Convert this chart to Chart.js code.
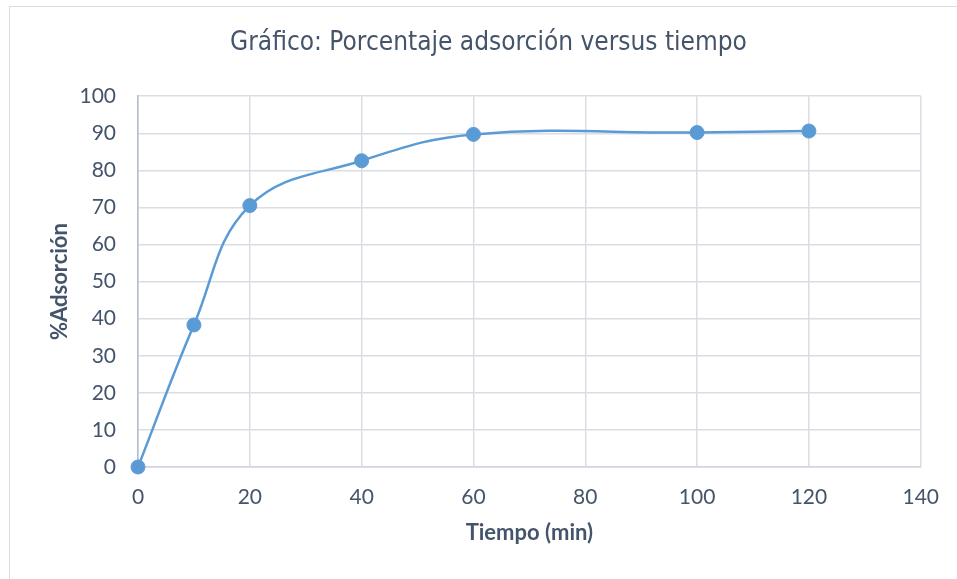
<!DOCTYPE html>
<html>
<head>
<meta charset="utf-8">
<script src="https://cdn.jsdelivr.net/npm/chart.js@4"></script>
<style>
  html, body { margin: 0; padding: 0; background: #fff; }
  #wrap { position: relative; width: 957px; height: 579px; overflow: hidden; }
  #frame { position: absolute; left: 9px; top: 6px; width: 1000px; height: 700px;
           border-left: 1px solid #d9dde3; border-top: 1px solid #d9dde3; }
  #chart { position: absolute; left: 0; top: 0; }
</style>
</head>
<body>
<div id="wrap">
  <div id="frame"></div>
  <canvas id="chart" width="957" height="579"></canvas>
</div>
<script>
// datos
const tiempoMin = [0, 10, 20, 40, 60, 100, 120];
const adsorcion = [0, 38.3, 70.5, 82.6, 89.7, 90.2, 90.6];

const titulo = 'Gráfico: Porcentaje adsorción versus tiempo';
const tituloX = 'Tiempo (min)';
const tituloY = '%Adsorción';

const textColor = '#44546a';
const gridColor = '#d9dde4';
const serieColor = '#5b9bd5';

const puntos = tiempoMin.map((t, i) => ({ x: t, y: adsorcion[i] }));

const ctx = document.getElementById('chart').getContext('2d');
window.chart = new Chart(ctx, {
  type: 'scatter',
  data: {
    datasets: [{
      label: tituloY,
      data: puntos,
      showLine: true,
      tension: 0.4,
      borderColor: serieColor,
      borderWidth: 2.5,
      backgroundColor: serieColor,
      pointRadius: 7,
      pointBorderWidth: 1,
      pointBorderColor: serieColor,
      clip: false
    }]
  },
  options: {
    responsive: false,
    animation: false,
    layout: { padding: { left: 56, right: 36, top: 0, bottom: 0 } },
    plugins: {
      legend: { display: false },
      tooltip: { enabled: false },
      title: {
        display: true,
        text: titulo,
        color: textColor,
        font: { family: "'Liberation Sans Narrow', 'DejaVu Sans Condensed', sans-serif", size: 26, weight: 'normal' },
        padding: { top: 28, bottom: 37 }
      }
    },
    scales: {
      x: {
        type: 'linear',
        min: 0,
        max: 140,
        ticks: { stepSize: 20, color: textColor, padding: 18, font: { family: 'Lato', size: 21 } },
        grid: { color: gridColor, lineWidth: 1.5, drawTicks: false },
        border: { color: '#cfd5de', width: 1.5 },
        title: {
          display: true,
          text: tituloX,
          color: textColor,
          font: { family: 'Lato', size: 22, weight: 'bold' },
          padding: { top: 0, bottom: 33 }
        },
        afterFit: s => { s.height = 112; }
      },
      y: {
        min: 0,
        max: 100,
        ticks: { stepSize: 10, color: textColor, padding: 22, font: { family: 'Lato', size: 21 } },
        grid: { color: gridColor, lineWidth: 1.5, drawTicks: false },
        border: { color: '#b4bdcb', width: 1.5 },
        title: {
          display: true,
          text: tituloY,
          color: textColor,
          font: { family: 'Lato', size: 22, weight: 'bold' },
          padding: { top: -9, bottom: 0 }
        },
        afterFit: s => { s.width = 82; }
      }
    }
  }
});
</script>
</body>
</html>
